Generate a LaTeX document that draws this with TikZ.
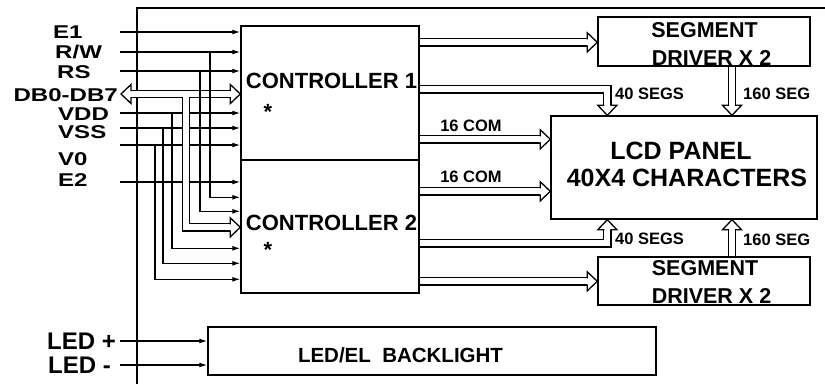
\documentclass[tikz,border=0pt]{standalone}
\usepackage{fontspec}
\setmainfont{Liberation Sans}
\newfontfamily\pinfont[FakeStretch=1.3]{Liberation Sans}
\usetikzlibrary{arrows.meta}

\begin{document}
\begin{tikzpicture}[x=1pt,y=-1pt,
    box/.style={draw,line width=1.4pt,inner sep=0pt},
    sig/.style={line width=1.3pt,-{Latex[length=8pt,width=5pt]}},
    bus/.style={double,double distance=6pt,line width=1.3pt,shorten >=10pt},
    hd/.pic={\draw[line width=1.3pt,line join=miter] (-10,3) -- (-10,9.5) -- (0,0) -- (-10,-9.5) -- (-10,-3);},
    pin/.style={font=\pinfont\fontsize{18.5}{18.5}\selectfont\bfseries,inner sep=0pt},
    led/.style={font=\fontsize{24}{24}\selectfont\bfseries,inner sep=0pt},
    ctl/.style={font=\fontsize{22}{22}\selectfont\bfseries,inner sep=0pt},
    drv/.style={font=\fontsize{21.5}{21.5}\selectfont\bfseries,inner sep=0pt},
    pnl/.style={font=\fontsize{25}{25}\selectfont\bfseries,inner sep=0pt},
    tag/.style={font=\fontsize{16.5}{16.5}\selectfont\bfseries,inner sep=0pt}]
  \useasboundingbox (0,0) rectangle (825,384);
  % frame
  \draw[line width=1.4pt] (137,384) -- (137,8) -- (825,8);
  % blocks
  \node[box,minimum width=178pt,minimum height=134pt] (C1) at (330,93) {};
  \node[box,minimum width=178pt,minimum height=133pt] (C2) at (330,226.5) {};
  \node[box,minimum width=212pt,minimum height=49pt] (segA) at (704,41.5) {};
  \node[box,minimum width=212pt,minimum height=48pt] (segB) at (704,281) {};
  \node[box,minimum width=266pt,minimum height=103pt] (lcd) at (684,167.5) {};
  \node[box,minimum width=448pt,minimum height=48pt] (bl) at (432,351) {};
  % block texts
  \node[ctl] (tC1) at (331.5,80.5) {CONTROLLER 1};
  \node[ctl,anchor=base] (sC1) at (268,119.5) {*};
  \node[ctl] (tC2) at (331.5,222.5) {CONTROLLER 2};
  \node[ctl,anchor=base] (sC2) at (268,257.5) {*};
  \node[drv] (tsA) at (704.5,30.5) {SEGMENT};
  \node[drv] (tdA) at (711.5,57.5) {DRIVER X 2};
  \node[drv] (tsB) at (705,268.5) {SEGMENT};
  \node[drv] (tdB) at (711.5,296) {DRIVER X 2};
  \node[pnl] (tl1) at (681,151) {LCD PANEL};
  \node[pnl] (tl2) at (687,178) {40X4 CHARACTERS};
  \node[font=\fontsize{20.5}{20.5}\selectfont\bfseries,inner sep=0pt] (tbl) at (400.5,355) {LED/EL\ \ BACKLIGHT};
  % pin names
  \node[pin,anchor=west] (lE1) at (53,32) {E1};
  \node[pin,anchor=west] (lRW) at (55,52.3) {R/W};
  \node[pin,anchor=west] (lRS) at (57,72.3) {RS};
  \node[pin,anchor=east] (lDB) at (118,95) {DB0-DB7};
  \node[pin,anchor=west] (lVDD) at (58,114) {VDD};
  \node[pin,anchor=west] (lVSS) at (58,132.3) {VSS};
  \node[pin,anchor=west] (lV0) at (58,159) {V0};
  \node[pin,anchor=west] (lE2) at (58,180.5) {E2};
  \node[led,anchor=west] (lLp) at (47,341) {LED +};
  \node[led,anchor=west] (lLm) at (48,365) {LED -};
  % pin line ends
  \coordinate (pE1) at (120,32);
  \coordinate (pRW) at (120,52);
  \coordinate (pRS) at (120,71);
  \coordinate (pDB) at (121,94);
  \coordinate (pVDD) at (120,113);
  \coordinate (pVSS) at (120,128);
  \coordinate (pV0) at (120,145);
  \coordinate (pE2) at (120,182);
  \coordinate (pLp) at (120,341);
  \coordinate (pLm) at (120,365);
  % branch points
  \coordinate (bRW) at (210,52);
  \coordinate (bRS) at (200,71);
  \coordinate (bDB) at (186,97.2);
  \coordinate (bVDD) at (172,113);
  \coordinate (bVSS) at (163,128);
  \coordinate (bV0) at (155,145);
  % bus ends
  \coordinate (eDB1) at (pDB -| C1.west);
  \coordinate (eDB2) at ([yshift=-68pt]C2.north west);
  \coordinate (eA) at ([yshift=-17pt]C1.north east -| segA.west);
  \coordinate (e40a) at ([xshift=57pt]lcd.north west);
  \coordinate (e16a) at ([yshift=-114pt]C1.north east -| lcd.west);
  \coordinate (e16b) at ([yshift=-32pt]C2.north east -| lcd.west);
  \coordinate (e40b) at ([xshift=57pt]lcd.south west);
  \coordinate (eB) at ([yshift=-122pt]C2.north east -| segB.west);
  \coordinate (e160a) at ([xshift=28pt]segA.south |- lcd.north);
  \coordinate (e160b) at ([xshift=28pt]segB.north |- lcd.south);
  % signals to controller 1
  \draw[sig] (pE1) -- (pE1 -| C1.west);
  \draw[sig] (pRW) -- (pRW -| C1.west);
  \draw[sig] (pRS) -- (pRS -| C1.west);
  \draw[bus,shorten <=10pt] (pDB) -- (eDB1);
  \draw[sig] (pVDD) -- (pVDD -| C1.west);
  \draw[sig] (pVSS) -- (pVSS -| C1.west);
  \draw[sig] (pV0) -- (pV0 -| C1.west);
  % signals to controller 2
  \draw[sig] (pE2) -- (pE2 -| C2.west);
  \draw[sig] (bRW) |- ([yshift=-38pt]C2.north west);
  \draw[sig] (bRS) |- ([yshift=-52pt]C2.north west);
  \draw[bus] (bDB) |- (eDB2);
  \draw[sig] (bVDD) |- ([yshift=-89pt]C2.north west);
  \draw[sig] (bVSS) |- ([yshift=-104pt]C2.north west);
  \draw[sig] (bV0) |- ([yshift=-120pt]C2.north west);
  % backlight
  \draw[sig] (pLp) -- (pLp -| bl.west);
  \draw[sig] (pLm) -- (pLm -| bl.west);
  % buses to drivers and panel
  \draw[bus] ([yshift=-17pt]C1.north east) -- (eA);
  \draw[bus] ([yshift=-64pt]C1.north east) -| (e40a);
  \draw[bus] ([yshift=-114pt]C1.north east) -- (e16a);
  \draw[bus] ([yshift=-32pt]C2.north east) -- (e16b);
  \draw[bus] ([yshift=-84pt]C2.north east) -| (e40b);
  \draw[bus] ([yshift=-122pt]C2.north east) -- (eB);
  \draw[bus] ([xshift=28pt]segA.south) -- (e160a);
  \draw[bus] ([xshift=28pt]segB.north) -- (e160b);
  % bus arrow heads
  \pic[rotate=180] at (pDB) {hd};
  \pic at (eDB1) {hd};
  \pic at (eDB2) {hd};
  \pic at (eA) {hd};
  \pic at (e16a) {hd};
  \pic at (e16b) {hd};
  \pic at (eB) {hd};
  \pic[rotate=-90] at (e40a) {hd};
  \pic[rotate=-90] at (e160a) {hd};
  \pic[rotate=90] at (e40b) {hd};
  \pic[rotate=90] at (e160b) {hd};
  % bus labels
  \node[tag] (c16a) at (471,126) {16 COM};
  \node[tag] (c16b) at (471,177) {16 COM};
  \node[tag,anchor=west] (s40a) at (615,94) {40 SEGS};
  \node[tag,anchor=west] (s40b) at (615,239) {40 SEGS};
  \node[tag,anchor=west] (s160a) at (743,94) {160 SEG};
  \node[tag,anchor=west] (s160b) at (743,240) {160 SEG};
\end{tikzpicture}
\end{document}
